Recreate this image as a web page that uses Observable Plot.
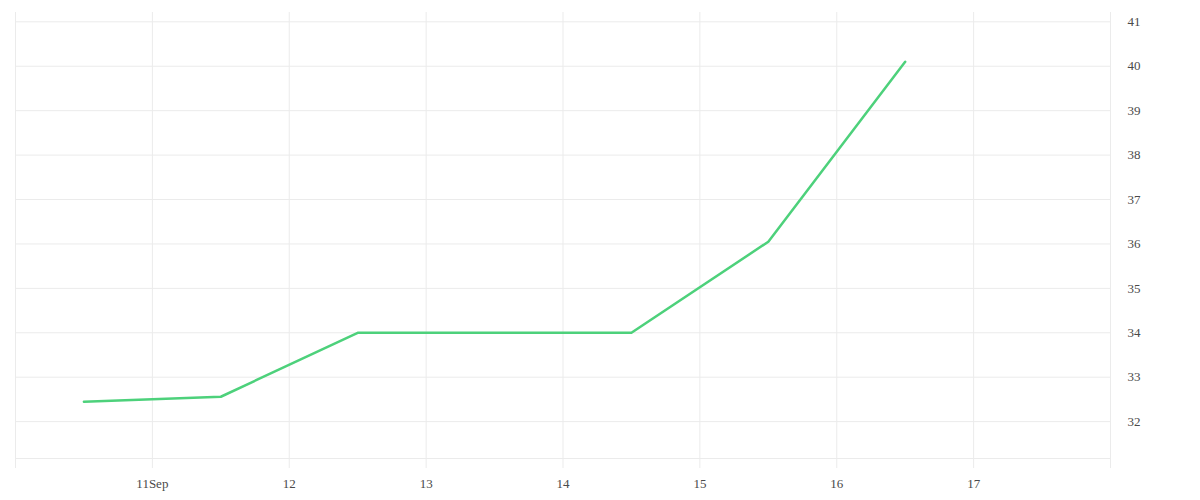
<!DOCTYPE html>
<html>
<head>
<meta charset="utf-8">
<script src="https://cdn.jsdelivr.net/npm/d3@7"></script>
<script src="https://cdn.jsdelivr.net/npm/@observablehq/plot@0.6"></script>
<style>
  html, body { margin: 0; padding: 0; background: #fff; }
  #chart { width: 1200px; height: 500px; }
</style>
</head>
<body>
<div id="chart"></div>
<script>
// Data: one value per day, plotted at noon
const dates = ["2023-09-10T12:00Z", "2023-09-11T12:00Z", "2023-09-12T12:00Z", "2023-09-13T12:00Z", "2023-09-14T12:00Z", "2023-09-15T12:00Z", "2023-09-16T12:00Z"];
const values = [32.45, 32.56, 34.0, 34.0, 34.0, 36.05, 40.1];

// Axis ticks
const xTicks = ["2023-09-10", "2023-09-11", "2023-09-12", "2023-09-13", "2023-09-14", "2023-09-15", "2023-09-16", "2023-09-17", "2023-09-18"];
const xTickLabels = ["", "11Sep", "12", "13", "14", "15", "16", "17", ""];
const yTicks = [32, 33, 34, 35, 36, 37, 38, 39, 40, 41];
const xDomain = ["2023-09-10", "2023-09-18"];
const yDomain = [31.17, 41.21];

const data = dates.map((d, i) => ({date: new Date(d), value: values[i]}));
const xTickDates = xTicks.map(d => new Date(d + "T00:00Z"));
const labelOf = new Map(xTickDates.map((d, i) => [+d, xTickLabels[i]]));

const gridColor = "#ebebeb";
const textColor = "#4a4a4a";

const chart = Plot.plot({
  width: 1200,
  height: 500,
  marginLeft: 15,
  marginRight: 90,
  marginTop: 12,
  marginBottom: 42,
  style: {fontFamily: "'Liberation Serif', serif", fontSize: "13px", color: textColor, background: "#fff"},
  x: {type: "utc", domain: xDomain.map(d => new Date(d + "T00:00Z"))},
  y: {domain: yDomain},
  marks: [
    Plot.ruleY(yTicks, {stroke: gridColor, strokeWidth: 1}),
    Plot.ruleY([yDomain[0]], {stroke: gridColor, strokeWidth: 1}),
    Plot.ruleX(xTickDates, {stroke: gridColor, strokeWidth: 1}),
    Plot.axisX({
      ticks: xTickDates,
      tickSize: 10,
      stroke: gridColor,
      tickPadding: 10,
      tickFormat: d => labelOf.get(+d) ?? "",
      fill: textColor,
      label: null
    }),
    Plot.axisY({
      anchor: "right",
      ticks: yTicks,
      tickSize: 0,
      tickPadding: 17,
      tickFormat: d => String(d),
      fill: textColor,
      label: null
    }),
    Plot.line(data, {x: "date", y: "value", stroke: "#4dd17b", strokeWidth: 2.5, curve: "linear"})
  ]
});
document.getElementById("chart").appendChild(chart);
</script>
</body>
</html>
